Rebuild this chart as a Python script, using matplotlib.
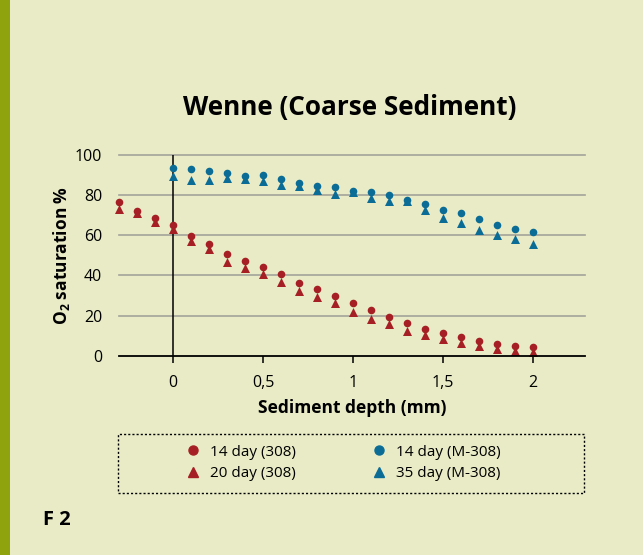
import matplotlib
matplotlib.use("Agg")
import matplotlib.pyplot as plt
from matplotlib.patches import Rectangle
from matplotlib.lines import Line2D

plt.rcParams['font.family'] = ['Open Sans', 'DejaVu Sans']
plt.rcParams['mathtext.fontset'] = 'custom'
plt.rcParams['mathtext.rm'] = 'Open Sans'
plt.rcParams['mathtext.bf'] = 'Open Sans:bold'

depth_308 = [-0.3, -0.2, -0.1, 0.0, 0.1, 0.2, 0.3, 0.4, 0.5, 0.6, 0.7, 0.8,
             0.9, 1.0, 1.1, 1.2, 1.3, 1.4, 1.5, 1.6, 1.7, 1.8, 1.9, 2.0]
day14_308 = [76.4, 72.1, 68.5, 65.0, 59.7, 55.9, 50.9, 47.3, 44.2, 40.5, 36.4, 33.1,
             29.6, 26.1, 22.7, 19.3, 16.1, 13.4, 11.4, 9.3, 7.3, 5.8, 4.8, 4.2]
day20_308 = [73.1, 70.9, 66.7, 63.0, 57.0, 53.1, 46.8, 43.7, 40.5, 36.9, 32.4, 29.0,
             26.1, 22.0, 18.2, 15.6, 12.3, 10.1, 8.1, 6.3, 5.0, 3.3, 2.5, 1.8]

depth_m308 = [0.0, 0.1, 0.2, 0.3, 0.4, 0.5, 0.6, 0.7, 0.8, 0.9, 1.0,
              1.1, 1.2, 1.3, 1.4, 1.5, 1.6, 1.7, 1.8, 1.9, 2.0]
day14_m308 = [93.6, 93.1, 91.8, 91.1, 89.6, 90.0, 88.0, 85.8, 84.8, 84.2, 82.2,
              81.5, 80.2, 77.7, 75.7, 72.4, 71.1, 68.1, 65.2, 63.3, 61.5]
day35_m308 = [89.6, 87.6, 87.5, 88.5, 88.0, 86.8, 85.3, 84.7, 82.5, 80.5, 81.4,
              78.6, 77.2, 76.9, 72.8, 68.5, 66.2, 62.7, 59.9, 58.0, 55.9]

x_ticks = [0, 0.5, 1, 1.5, 2]
x_ticklabels = ['0', '0,5', '1', '1,5', '2']
y_ticks = [0, 20, 40, 60, 80, 100]

BG = '#e8ebc5'
RED = '#a51f24'
BLUE = '#0b6d96'
OLIVE = '#8fa30e'

W, H = 643, 555
fig = plt.figure(figsize=(W / 100, H / 100), dpi=100, facecolor=BG)

# Left olive bar
fig.patches.append(Rectangle((0, 0), 10 / W, 1, transform=fig.transFigure,
                             facecolor=OLIVE, edgecolor='none'))

ax = fig.add_axes([119 / W, 1 - 355.7 / H, (585 - 119) / W, (355.7 - 155) / H])
ax.set_facecolor(BG)
ax.set_xlim(-0.3, (585 - 173) / 180)
ax.set_ylim(0, 100)

for y in y_ticks[1:]:
    ax.axhline(y, color='#a3a39a', lw=1.2, zorder=1, clip_on=False)
ax.axvline(0, color='black', lw=1.1, zorder=2)

for s in ['top', 'right', 'left']:
    ax.spines[s].set_visible(False)
ax.spines['bottom'].set_linewidth(1.3)
ax.spines['bottom'].set_zorder(5)

ax.set_xticks(x_ticks)
ax.set_xticklabels(x_ticklabels, fontsize=11.5)
ax.set_yticks(y_ticks)
ax.set_yticklabels([str(v) for v in y_ticks], fontsize=11.5)
ax.tick_params(axis='x', length=5, width=1.1, color='black', pad=9)
ax.tick_params(axis='y', length=0, pad=12)

ms_c = 30
ms_t = 42
ax.scatter(depth_308, day14_308, s=ms_c, marker='o', color=RED, zorder=3, linewidths=0, clip_on=False)
ax.scatter(depth_308, day20_308, s=ms_t, marker='^', color=RED, zorder=3, linewidths=0, clip_on=False)
ax.scatter(depth_m308, day14_m308, s=ms_c, marker='o', color=BLUE, zorder=3, linewidths=0, clip_on=False)
ax.scatter(depth_m308, day35_m308, s=ms_t, marker='^', color=BLUE, zorder=3, linewidths=0, clip_on=False)

ax.set_xlabel('Sediment depth (mm)', fontsize=12.5, fontweight='bold', labelpad=6)
ax.set_ylabel(r'$\mathbf{O_2}$ saturation %', fontsize=12.5, fontweight='bold', labelpad=2)

fig.text(350 / W, 1 - 108 / H, 'Wenne (Coarse Sediment)', ha='center', va='center',
         fontsize=18.8, fontweight='bold')

# Legend box (dotted)
fig.patches.append(Rectangle((118 / W, 1 - 493 / H), (584 - 118) / W, (493 - 434) / H,
                             transform=fig.transFigure, facecolor='none',
                             edgecolor='black', lw=1.0, linestyle=(0, (1.5, 1.5))))

handles = [
    Line2D([], [], marker='o', linestyle='none', color=RED, markersize=6.5),
    Line2D([], [], marker='^', linestyle='none', color=RED, markersize=7.5),
    Line2D([], [], marker='o', linestyle='none', color=BLUE, markersize=6.5),
    Line2D([], [], marker='^', linestyle='none', color=BLUE, markersize=7.5),
]
labels = ['14 day (308)', '20 day (308)', '14 day (M-308)', '35 day (M-308)']
fig.legend(handles, labels, ncol=2, frameon=False, fontsize=11,
           loc='center left', bbox_to_anchor=(178 / W, 1 - 463 / H),
           handlelength=1.0, handletextpad=0.6, columnspacing=4.95,
           labelspacing=0.45, borderpad=0)

fig.text(43 / W, 1 - 520 / H, 'F 2', ha='left', va='center', fontsize=14.5, fontweight='bold')

fig.savefig('out.png', dpi=100, facecolor=BG)
